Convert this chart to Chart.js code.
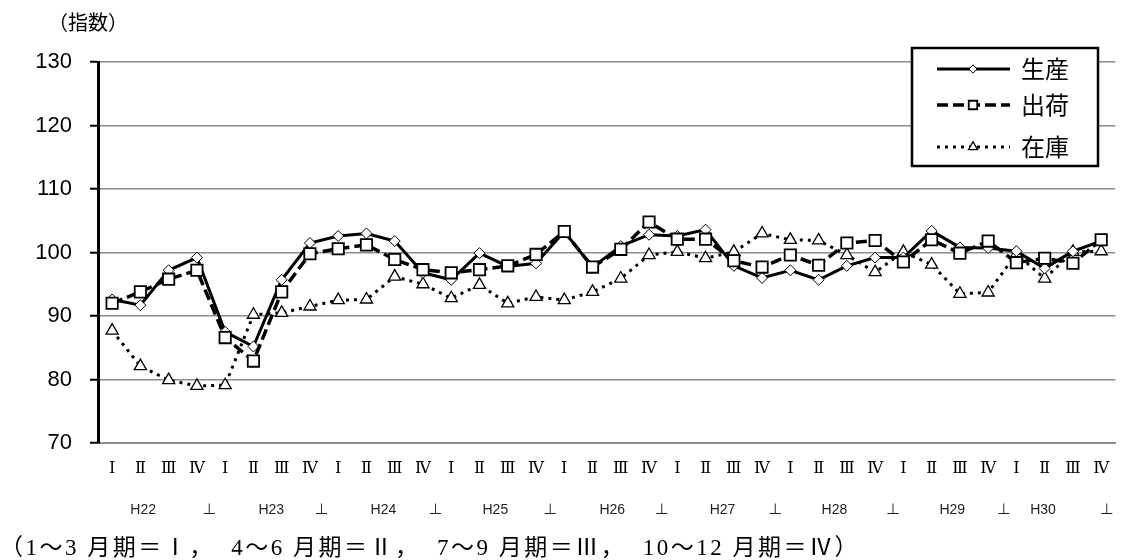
<!DOCTYPE html>
<html lang="ja">
<head>
<meta charset="utf-8">
<title>生産・出荷・在庫指数</title>
<script src="https://cdn.jsdelivr.net/npm/chart.js@4.4.1/dist/chart.umd.min.js"></script>
<style>
    html, body { margin: 0; padding: 0; background: #fff; }
    #wrap { position: relative; width: 1133px; height: 560px; overflow: hidden; }
    #chart { position: absolute; left: 0; top: 0; }
    .unit {
        position: absolute; left: 48px; top: 7px;
        font: 20px "Noto Sans CJK JP", sans-serif; color: #000;
    }
    .note {
        position: absolute; left: 0; top: 528px; white-space: pre;
        font: 23px "Liberation Serif", "Noto Sans CJK JP", serif; color: #000;
        letter-spacing: 2.5px;
    }
</style>
</head>
<body>
<div id="wrap">
    <canvas id="chart" width="1133" height="560"></canvas>
    <div class="unit">（指数）</div>
    <div class="note">（1～3 月期＝Ⅰ，  4～6 月期＝Ⅱ，  7～9 月期＝Ⅲ，  10～12 月期＝Ⅳ）</div>
</div>
<script>
// H22 Ⅰ 〜 H30 Ⅳ (quarterly)
const years = ['H22', 'H23', 'H24', 'H25', 'H26', 'H27', 'H28', 'H29', 'H30'];
const quarters = ['Ⅰ', 'Ⅱ', 'Ⅲ', 'Ⅳ'];
const categories = years.flatMap(y => quarters.map(q => y + ' ' + q));

const production = [
    92.6, 91.7, 97.2, 99.2,
    87.5, 85.2, 95.7, 101.5,
    102.6, 103.0, 101.8, 96.8,
    95.7, 99.9, 97.8, 98.3,
    103.3, 97.7, 101.0, 102.8,
    102.6, 103.6, 97.9, 96.0,
    97.2, 95.7, 97.9, 99.2,
    99.2, 103.4, 100.8, 100.7,
    100.2, 97.5, 100.2, 101.8
];
const shipments = [
    92.0, 93.8, 95.8, 97.2,
    86.6, 82.9, 93.8, 99.8,
    100.6, 101.2, 98.9, 97.3,
    96.8, 97.3, 97.9, 99.7,
    103.3, 97.7, 100.5, 104.8,
    102.1, 102.1, 98.7, 97.7,
    99.6, 98.0, 101.5, 101.9,
    98.5, 102.0, 99.9, 101.8,
    98.4, 99.1, 98.3, 102.0
];
const inventory = [
    87.7, 82.1, 79.9, 79.0,
    79.1, 90.2, 90.5, 91.5,
    92.5, 92.6, 96.2, 95.0,
    92.8, 94.9, 92.0, 93.0,
    92.5, 93.8, 95.9, 99.6,
    100.1, 99.1, 100.1, 103.0,
    102.0, 101.9, 99.6, 96.9,
    100.1, 98.1, 93.5, 93.7,
    99.8, 95.9, 100.1, 100.2
];

const yTicks = [70, 80, 90, 100, 110, 120, 130];

// second row under the quarters: year names and year separators
const yearRowLabels = ['H22', '⊥', 'H23', '⊥', 'H24', '⊥', 'H25', '⊥', 'H26', '⊥',
                       'H27', '⊥', 'H28', '⊥', 'H29', '⊥', 'H30', '⊥'];
const yearRowAt = [1.1, 3.44, 5.63, 7.41, 9.6, 11.44, 13.56, 15.5, 17.7, 19.45,
                   21.6, 23.47, 25.56, 27.63, 29.73, 31.55, 32.94, 35.2];

const seriesNames = ['生産', '出荷', '在庫'];

Chart.defaults.font.family = '"Liberation Sans", "Noto Sans CJK JP", sans-serif';
Chart.defaults.color = '#000';

// legend with a frame, drawn from the dataset styles
const boxLegend = {
    id: 'boxLegend',
    afterDraw(chart) {
        const ctx = chart.ctx;
        const box = { x: 912, y: 48, w: 186, h: 118 };
        const rowY = [69, 105, 147];
        ctx.save();
        ctx.fillStyle = '#fff';
        ctx.fillRect(box.x, box.y, box.w, box.h);
        ctx.lineWidth = 2.5;
        ctx.strokeStyle = '#000';
        ctx.strokeRect(box.x, box.y, box.w, box.h);

        chart.data.datasets.forEach((ds, i) => {
            const y = rowY[i];
            ctx.save();
            ctx.strokeStyle = ds.borderColor;
            ctx.lineWidth = ds.borderWidth;
            ctx.setLineDash(ds.borderDash || []);
            ctx.beginPath();
            ctx.moveTo(937, y);
            ctx.lineTo(1010, y);
            ctx.stroke();
            ctx.restore();

            ctx.save();
            ctx.fillStyle = ds.pointBackgroundColor;
            ctx.strokeStyle = ds.pointBorderColor;
            ctx.lineWidth = ds.pointBorderWidth;
            Chart.helpers.drawPoint(ctx, {
                pointStyle: ds.pointStyle,
                radius: ds.pointRadius * 0.75,
                rotation: 0,
                borderWidth: ds.pointBorderWidth
            }, 973, y);
            ctx.restore();

            ctx.fillStyle = '#000';
            ctx.font = '24px "Noto Sans CJK JP", sans-serif';
            ctx.textBaseline = 'middle';
            ctx.textAlign = 'left';
            ctx.fillText(ds.label, 1021, y);
        });
        ctx.restore();
    }
};

const ctx = document.getElementById('chart').getContext('2d');
new Chart(ctx, {
    type: 'line',
    data: {
        labels: categories,
        datasets: [
            {
                label: seriesNames[0],
                data: production,
                borderColor: '#000',
                borderWidth: 3,
                pointStyle: 'rectRot',
                pointRadius: 5.5,
                pointBackgroundColor: '#fff',
                pointBorderColor: '#000',
                pointBorderWidth: 1,
                tension: 0,
                order: 1
            },
            {
                label: seriesNames[1],
                data: shipments,
                borderColor: '#000',
                borderWidth: 3.5,
                borderDash: [11, 5],
                pointStyle: 'rect',
                pointRadius: 8,
                pointBackgroundColor: '#fff',
                pointBorderColor: '#000',
                pointBorderWidth: 1.8,
                tension: 0,
                order: 0
            },
            {
                label: seriesNames[2],
                data: inventory,
                borderColor: '#000',
                borderWidth: 3,
                borderDash: [3, 5],
                pointStyle: 'triangle',
                pointRadius: 7,
                pointBackgroundColor: '#fff',
                pointBorderColor: '#000',
                pointBorderWidth: 1.3,
                tension: 0,
                order: 2
            }
        ]
    },
    options: {
        responsive: false,
        animation: false,
        layout: {
            padding: { top: 62, right: 0, bottom: 37, left: 0 }
        },
        plugins: {
            legend: { display: false },
            tooltip: { enabled: false }
        },
        scales: {
            x: {
                type: 'category',
                offset: true,
                weight: 0,
                grid: { display: false, drawTicks: false },
                border: { display: true, color: '#8c8c8c', width: 2 },
                ticks: {
                    autoSkip: false,
                    maxRotation: 0,
                    padding: 16,
                    font: { family: '"DejaVu Serif", "Noto Sans CJK JP", serif', size: 16 },
                    callback: function(value, index) {
                        return quarters[index % 4];
                    }
                },
                afterFit: (scale) => { scale.height = 40; }
            },
            x2: {
                type: 'linear',
                axis: 'x',
                position: 'bottom',
                weight: 1,
                min: -0.5,
                max: 35.5,
                grid: { display: false, drawTicks: false },
                border: { display: false },
                afterBuildTicks: (scale) => {
                    scale.ticks = yearRowAt.map(v => ({ value: v }));
                },
                ticks: {
                    autoSkip: false,
                    maxRotation: 0,
                    padding: 19,
                    color: '#222',
                    font: { size: 14 },
                    callback: function(value) {
                        const i = yearRowAt.indexOf(value);
                        return i >= 0 ? yearRowLabels[i] : '';
                    }
                },
                afterFit: (scale) => { scale.height = 40; }
            },
            y: {
                min: 70,
                max: 130,
                afterBuildTicks: (scale) => {
                    scale.ticks = yTicks.map(v => ({ value: v }));
                },
                grid: {
                    color: '#8c8c8c',
                    lineWidth: 1.5,
                    tickLength: 8,
                    tickColor: '#000',
                    tickWidth: 2
                },
                border: { color: '#000', width: 3 },
                ticks: {
                    padding: 18,
                    font: { size: 22 },
                    color: '#000'
                },
                afterFit: (scale) => { scale.width = 98; }
            }
        }
    },
    plugins: [boxLegend]
});
</script>
</body>
</html>
